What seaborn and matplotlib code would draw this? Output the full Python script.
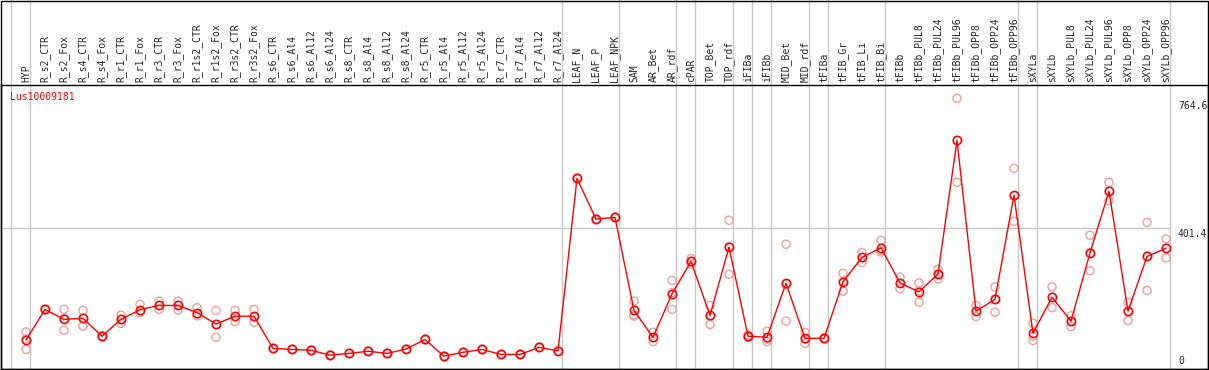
import matplotlib.pyplot as plt
import pandas as pd
import seaborn as sns
from matplotlib.patches import Rectangle


GENE = "Lus10009181"

SAMPLES = [
    "HYP",
    "R_s2_CTR", "R_s2_Fox", "R_s4_CTR", "R_s4_Fox", "R_r1_CTR", "R_r1_Fox",
    "R_r3_CTR", "R_r3_Fox", "R_r1s2_CTR", "R_r1s2_Fox", "R_r3s2_CTR", "R_r3s2_Fox",
    "R_s6_CTR", "R_s6_Al4", "R_s6_Al12", "R_s6_Al24", "R_s8_CTR", "R_s8_Al4",
    "R_s8_Al12", "R_s8_Al24", "R_r5_CTR", "R_r5_Al4", "R_r5_Al12", "R_r5_Al24",
    "R_r7_CTR", "R_r7_Al4", "R_r7_Al12", "R_r7_Al24",
    "LEAF_N", "LEAF_P", "LEAF_NPK",
    "SAM", "AR_Bet", "AR_rdf",
    "cPAR",
    "TOP_Bet", "TOP_rdf",
    "iFIBa",
    "iFIBb",
    "MID_Bet", "MID_rdf",
    "tFIBa",
    "tFIB_Gr", "tFIB_Li", "tFIB_Bi",
    "tFIBb", "tFIBb_PUL8", "tFIBb_PUL24", "tFIBb_PUL96", "tFIBb_OPP8", "tFIBb_OPP24", "tFIBb_OPP96",
    "sXYLa",
    "sXYLb", "sXYLb_PUL8", "sXYLb_PUL24", "sXYLb_PUL96", "sXYLb_OPP8", "sXYLb_OPP24", "sXYLb_OPP96",
]

# number of samples in each block between the grey separators
GROUP_SIZES = [1, 28, 3, 3, 1, 2, 1, 1, 2, 1, 3, 7, 1, 7]

MEANS = [
    89, 175, 147, 150, 100, 147, 174, 186, 186, 166, 134, 156, 156,
    66, 63, 61, 47, 52, 58, 52, 64,
    91, 44, 55, 63, 49, 49, 69, 59,
    541, 427, 432,
    172, 97, 218,
    309,
    158, 349,
    100,
    97,
    248, 94,
    94,
    252, 320, 347,
    249, 224, 274, 647, 170, 203, 494,
    108,
    209, 142, 333, 505, 170, 323, 346,
]

REPLICATES = [
    [112, 92, 63], [176, 175, 174], [175, 150, 117], [172, 150, 128], [101, 100, 99],
    [159, 147, 136], [189, 167, 166], [198, 186, 175], [198, 187, 173], [180, 162, 157],
    [172, 133, 97], [172, 155, 141], [175, 154, 139],
    [67, 66, 65], [64, 63, 62], [62, 61, 60], [48, 47, 46], [53, 52, 51], [59, 58, 57],
    [53, 52, 51], [65, 64, 63],
    [92, 91, 90], [45, 44, 43], [56, 55, 54], [64, 63, 62], [50, 49, 48], [50, 49, 48],
    [70, 69, 68], [60, 59, 58],
    [542, 541, 540], [428, 427, 426], [433, 432, 431],
    [198, 160, 156], [111, 96, 85], [256, 222, 175],
    [317, 309, 302],
    [186, 156, 133], [424, 351, 273],
    [103, 100, 97],
    [114, 92, 85],
    [357, 245, 142], [111, 92, 80],
    [96, 94, 92],
    [276, 253, 226], [334, 320, 306], [368, 339, 335],
    [265, 248, 233], [249, 227, 195], [287, 275, 260], [764.6, 647, 530],
    [186, 170, 155], [238, 204, 167], [569, 492, 421],
    [136, 100, 88],
    [238, 209, 180], [157, 141, 127], [382, 334, 283], [530, 506, 479],
    [195, 170, 144], [418, 323, 228], [372, 346, 319],
]

Y_MAX_LABEL = 764.6
Y_MID_LABEL = 401.4

W, H = 1209, 370
RED = "#ff0000"
PINK = "#f0a0a0"
GREY = "#c8c8c8"


def main():
    sns.set_style("white")
    plt.rcParams["font.family"] = ["DejaVu Sans Mono"]

    pos = list(range(len(SAMPLES)))
    rep_df = pd.DataFrame(
        [(i, v) for i, reps in enumerate(REPLICATES) for v in reps],
        columns=["pos", "value"],
    )

    fig = plt.figure(figsize=(W / 100, H / 100), dpi=100)
    # plot region: 1..1208 px wide, rows 85..369 from the top
    ax = fig.add_axes([1 / W, 1 / H, 1207 / W, 284 / H])

    # one sample every 19 px, first one at px 26
    ax.set_xlim((1 - 26) / 19, (1208 - 26) / 19)
    ax.set_ylim(8.4, 801.9)

    # group separators, drawn up through the label header
    bounds = [0]
    for size in GROUP_SIZES:
        bounds.append(bounds[-1] + size)
    seps = [b - 15 / 19 for b in bounds]
    for x in seps:
        ax.axvline(x, ymin=0, ymax=1 + 85 / 284, color=GREY, lw=1, clip_on=False, zorder=1)
    ax.hlines(Y_MID_LABEL, ax.get_xlim()[0], seps[-1], color=GREY, lw=1, zorder=1)

    sns.scatterplot(
        data=rep_df, x="pos", y="value", marker="o", s=34,
        facecolors="none", edgecolor=PINK, linewidth=1.0, ax=ax, zorder=2, legend=False,
    )
    sns.lineplot(
        x=pos, y=MEANS, color=RED, lw=1, marker="o", markersize=6,
        markerfacecolor="none", markeredgecolor=RED, markeredgewidth=1.1,
        estimator=None, ax=ax, zorder=3,
    )

    ax.set_xticks(pos)
    ax.set_xticklabels(SAMPLES)
    ax.xaxis.tick_top()
    ax.tick_params(axis="x", length=0, pad=2, labelsize=7, rotation=90)
    ax.set_yticks([])
    ax.set_xlabel("")
    ax.set_ylabel("")
    for spine in ax.spines.values():
        spine.set_color("black")
        spine.set_linewidth(1)

    # value labels in the right-hand strip
    x_lab = (1178 - 26) / 19
    ax.annotate(f"{Y_MAX_LABEL}", xy=(x_lab, Y_MAX_LABEL), xytext=(0, -3), textcoords="offset pixels",
                ha="left", va="top", fontsize=7, annotation_clip=False)
    ax.annotate(f"{Y_MID_LABEL}", xy=(x_lab, Y_MID_LABEL), xytext=(0, -1), textcoords="offset pixels",
                ha="left", va="top", fontsize=7, annotation_clip=False)
    ax.annotate("0", xy=(x_lab, 0), xycoords=("data", "axes fraction"), xytext=(0, 3),
                textcoords="offset pixels", ha="left", va="bottom", fontsize=7)

    ax.annotate(GENE, xy=(0, 1), xycoords="axes fraction", xytext=(9, -12), textcoords="offset pixels",
                ha="left", va="center", fontsize=7, color=RED)

    fig.patches.append(Rectangle((1 / W, 1 / H), 1207 / W, 1 - 1.5 / H, transform=fig.transFigure,
                                 fill=False, edgecolor="black", lw=1))

    fig.savefig("out.png", dpi=100)
    plt.close(fig)


if __name__ == "__main__":
    main()
